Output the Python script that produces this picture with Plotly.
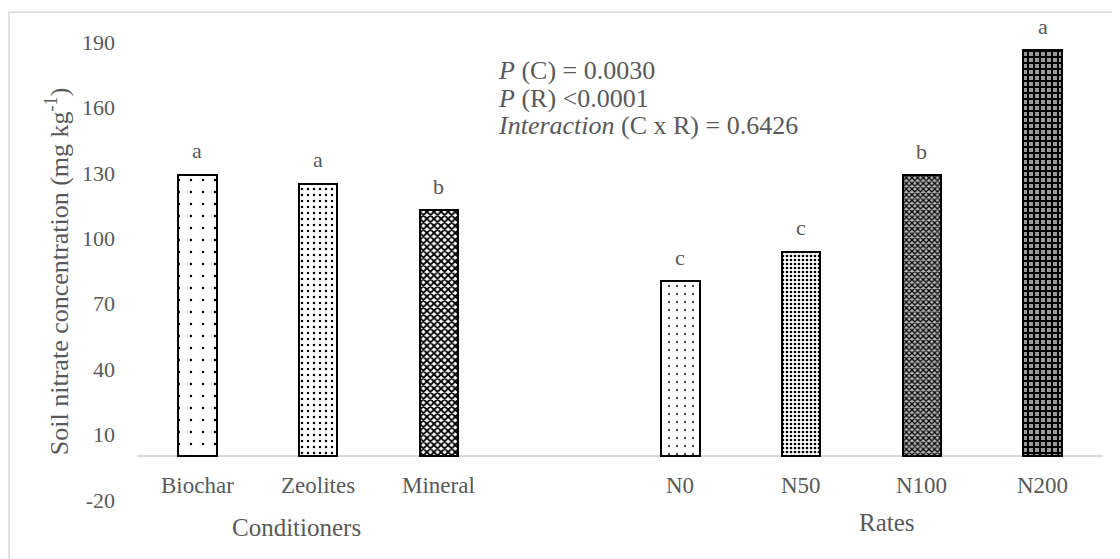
import plotly.graph_objects as go

conditioners = ["Biochar", "Zeolites", "Mineral"]
rates = ["N0", "N50", "N100", "N200"]
cond_values = [129.1, 125.0, 112.9]
rate_values = [80.4, 93.8, 128.9, 186.2]
cond_letters = ["a", "a", "b"]
rate_letters = ["c", "c", "b", "a"]
y_ticks = [-20, 10, 40, 70, 100, 130, 160, 190]
stats_lines = ["<i>P</i> (C) = 0.0030", "<i>P</i> (R) <0.0001", "<i>Interaction</i> (C x R) = 0.6426"]

GAP = " "
cats = conditioners + rates
vals = cond_values + rate_values
letters = cond_letters + rate_letters
order = conditioners + [GAP] + rates

FONT = "Liberation Serif"
GREY = "#595959"

pat_shape = [".", ".", "x", ".", ".", "x", "+"]
pat_size = [12, 6, 5, 8, 4, 4, 6]
pat_sol = [0.03, 0.14, 0.6, 0.05, 0.35, 0.55, 0.55]
pat_fg = ["black", "black", "black", "black", "black", "black", "black"]
pat_bg = ["white", "white", "white", "white", "white", "#bbbbbb", "#999999"]

# page offset (body margin) of 8 px
OFF = 8
L, R, T, B = 137 - OFF, 1103 - OFF, 41.7 - OFF, 500 - OFF
FW, FH = 1120, 559

fig = go.Figure()
fig.add_trace(go.Bar(
    x=cats, y=vals, width=0.32,
    marker=dict(color="white",
                line=dict(color="black", width=2),
                pattern=dict(shape=pat_shape, size=pat_size, solidity=pat_sol,
                             fgcolor=pat_fg, bgcolor=pat_bg, fillmode="replace")),
    showlegend=False, hoverinfo="x+y",
))

annotations = []
for c, v, l in zip(cats, vals, letters):
    annotations.append(dict(x=c, y=v, text=l, showarrow=False, yshift=24,
                            yanchor="middle", font=dict(family=FONT, size=22, color=GREY)))
for c in cats:
    annotations.append(dict(x=c, y=0, text=c, showarrow=False, yshift=-29,
                            yanchor="middle", font=dict(family=FONT, size=23, color=GREY)))

def px(xs):
    return (xs - OFF - L) / (R - L)
def py(ys):
    return (B - (ys - OFF)) / (B - T)

annotations.append(dict(xref="paper", yref="paper", x=px(296), y=py(528), text="Conditioners",
                        showarrow=False, xanchor="center", yanchor="middle",
                        font=dict(family=FONT, size=25, color=GREY)))
annotations.append(dict(xref="paper", yref="paper", x=px(887), y=py(523), text="Rates",
                        showarrow=False, xanchor="center", yanchor="middle",
                        font=dict(family=FONT, size=25, color=GREY)))
for line, yy in zip(stats_lines, [70, 98, 125]):
    annotations.append(dict(xref="paper", yref="paper", x=px(496), y=py(yy), text=line,
                            showarrow=False, xanchor="left", yanchor="middle", align="left",
                            font=dict(family=FONT, size=26, color=GREY)))
annotations.append(dict(xref="paper", yref="paper", x=px(57), y=py(271),
                        text="Soil nitrate concentration (mg kg<sup>-1</sup>)", textangle=-90,
                        showarrow=False, xanchor="center", yanchor="middle",
                        font=dict(family=FONT, size=26, color=GREY)))

fig.update_layout(
    width=FW, height=FH,
    margin=dict(l=L, r=FW - R, t=T, b=FH - B),
    paper_bgcolor="white", plot_bgcolor="white",
    bargap=0,
    xaxis=dict(type="category", categoryorder="array", categoryarray=order,
               showticklabels=False, showgrid=False, zeroline=False, showline=False,
               ticks="", range=[-0.5, 7.5]),
    yaxis=dict(range=[-20, 190], tickvals=y_ticks, ticktext=[str(t) for t in y_ticks],
               showgrid=False, zeroline=True,
               zerolinecolor="#d9d9d9", zerolinewidth=1.5, showline=False, ticks="",
               ticklabelstandoff=21,
               tickfont=dict(family=FONT, size=22, color=GREY)),
    annotations=annotations,
    shapes=[dict(type="rect", xref="paper", yref="paper",
                 x0=px(9), x1=px(1140), y0=py(12), y1=py(580),
                 line=dict(color="#d9d9d9", width=1.5), fillcolor="rgba(0,0,0,0)", layer="below")],
)

fig.write_html("out.html")
